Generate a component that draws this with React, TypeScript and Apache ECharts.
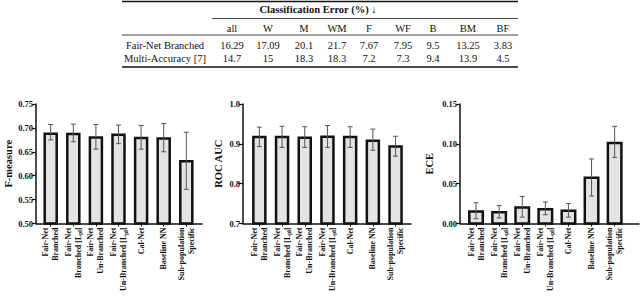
import React, { useEffect, useRef } from "react";
import * as echarts from "echarts";

// ---- data ----
const categories = [
  "Fair-Net\nBranched",
  "Fair-Net\nBranched [L{sub|pl}]",
  "Fair-Net\nUn-Branched",
  "Fair-Net\nUn-Branched [L{sub|pl}]",
  "Cal-Net",
  "Baseline NN",
  "Sub-population\nSpecific",
];

const fMeasure = [0.688, 0.6875, 0.68, 0.6855, 0.679, 0.678, 0.63];
const fMeasureLo = [0.675, 0.671, 0.6555, 0.667, 0.6555, 0.65, 0.5715];
const fMeasureHi = [0.707, 0.708, 0.707, 0.706, 0.705, 0.709, 0.691];

const rocAuc = [0.917, 0.917, 0.915, 0.9175, 0.917, 0.908, 0.893];
const rocAucLo = [0.893, 0.891, 0.891, 0.891, 0.891, 0.884, 0.869];
const rocAucHi = [0.942, 0.944, 0.943, 0.946, 0.943, 0.937, 0.919];

const ece = [0.015, 0.014, 0.02, 0.018, 0.016, 0.0575, 0.101];
const eceLo = [0.006, 0.007, 0.008, 0.011, 0.008, 0.0346, 0.083];
const eceHi = [0.026, 0.0225, 0.034, 0.027, 0.025, 0.081, 0.122];

const tableTitle = "Classification Error (%) \u2193";
const tableCols = ["all", "W", "M", "WM", "F", "WF", "B", "BM", "BF"];
const rowNames = ["Fair-Net Branched", "Multi-Accuracy [7]"];
const fairNetErr = ["16.29", "17.09", "20.1", "21.7", "7.67", "7.95", "9.5", "13.25", "3.83"];
const multiAccErr = ["14.7", "15", "18.3", "18.3", "7.2", "7.3", "9.4", "13.9", "4.5"];

const FONT = "Liberation Serif";

type Panel = {
  name: string;
  vals: number[];
  lo: number[];
  hi: number[];
  min: number;
  max: number;
  interval: number;
  dec: number;
  axisX: number;
  bandLeft: number;
  bandW: number;
  axisEnd: number;
  barW: number;
  nameGap: number;
};

const panels: Panel[] = [
  { name: "F-measure", vals: fMeasure, lo: fMeasureLo, hi: fMeasureHi, min: 0.5, max: 0.75, interval: 0.05, dec: 2,
    axisX: 36, bandLeft: 39.4, bandW: 22.6, axisEnd: 202, barW: 12, nameGap: 21 },
  { name: "ROC AUC", vals: rocAuc, lo: rocAucLo, hi: rocAucHi, min: 0.7, max: 1.0, interval: 0.1, dec: 1,
    axisX: 243, bandLeft: 248, bandW: 22.7, axisEnd: 411, barW: 12, nameGap: 19 },
  { name: "ECE", vals: ece, lo: eceLo, hi: eceHi, min: 0, max: 0.15, interval: 0.05, dec: 2,
    axisX: 460, bandLeft: 464.5, bandW: 23.1, axisEnd: 639, barW: 13.5, nameGap: 25 },
];

const TOP = 104;
const H = 119.5;

function buildOption() {
  const grid: any[] = [];
  const xAxis: any[] = [];
  const yAxis: any[] = [];
  const series: any[] = [];

  panels.forEach((p) => {
    const gA = grid.length;
    grid.push({ left: p.bandLeft, top: TOP, width: p.bandW * 7, height: H, containLabel: false });
    const gB = grid.length;
    grid.push({ left: p.axisX, top: TOP, width: p.axisEnd - p.axisX, height: H, containLabel: false });

    const xA = xAxis.length;
    xAxis.push({
      type: "category",
      gridIndex: gA,
      data: categories,
      boundaryGap: true,
      axisLine: { show: false },
      axisTick: { show: true, alignWithLabel: true, length: 3, lineStyle: { color: "#111", width: 1 } },
      axisLabel: {
        rotate: 90,
        interval: 0,
        margin: 4,
        fontFamily: FONT,
        fontWeight: "bold",
        fontSize: 8,
        lineHeight: 10,
        color: "#111",
        rich: { sub: { fontSize: 5.5, fontWeight: "bold", fontFamily: FONT, color: "#111", verticalAlign: "bottom", padding: [3, 0, 0, 0] } },
      },
      splitLine: { show: false },
    });
    xAxis.push({
      type: "value",
      gridIndex: gB,
      min: 0,
      max: 1,
      axisLine: { show: true, onZero: false, lineStyle: { color: "#111", width: 1.5 } },
      axisTick: { show: false },
      axisLabel: { show: false },
      splitLine: { show: false },
    });

    const yA = yAxis.length;
    yAxis.push({ type: "value", gridIndex: gA, min: p.min, max: p.max, interval: p.interval, show: false, splitLine: { show: false } });
    yAxis.push({
      type: "value",
      gridIndex: gB,
      min: p.min,
      max: p.max,
      interval: p.interval,
      name: p.name,
      nameLocation: "middle",
      nameGap: p.nameGap,
      nameTextStyle: { fontFamily: FONT, fontWeight: "bold", fontSize: 10.5, color: "#111" },
      axisLine: { show: true, onZero: false, lineStyle: { color: "#111", width: 1.5 } },
      axisTick: { show: true, length: 4, lineStyle: { color: "#111", width: 1.2 } },
      axisLabel: {
        fontFamily: FONT,
        fontWeight: "bold",
        fontSize: 8.5,
        color: "#111",
        margin: 3,
        formatter: (v: number) => v.toFixed(p.dec),
      },
      splitLine: { show: false },
    });

    series.push({
      type: "custom",
      xAxisIndex: xA,
      yAxisIndex: yA,
      data: p.vals.map((v, i) => [i, v]),
      encode: { x: 0, y: 1 },
      renderItem: (params: any, api: any) => {
        const i = api.value(0);
        const top = api.coord([i, api.value(1)]);
        const base = api.coord([i, p.min]);
        return {
          type: "rect",
          shape: { x: top[0] - p.barW / 2, y: top[1], width: p.barW, height: base[1] - top[1] },
          style: { fill: "#e3e3e3", stroke: "#111", lineWidth: 2.5 },
        };
      },
      z: 2,
    });
    series.push({
      type: "custom",
      xAxisIndex: xA,
      yAxisIndex: yA,
      data: p.vals.map((_, i) => [i, p.lo[i], p.hi[i]]),
      encode: { x: 0, y: [1, 2] },
      renderItem: (params: any, api: any) => {
        const i = api.value(0);
        const lo = api.coord([i, api.value(1)]);
        const hi = api.coord([i, api.value(2)]);
        const cw = 2.5;
        const st = { stroke: "#555", lineWidth: 1 };
        return {
          type: "group",
          children: [
            { type: "line", shape: { x1: lo[0], y1: lo[1], x2: hi[0], y2: hi[1] }, style: st },
            { type: "line", shape: { x1: lo[0] - cw, y1: lo[1], x2: lo[0] + cw, y2: lo[1] }, style: st },
            { type: "line", shape: { x1: hi[0] - cw, y1: hi[1], x2: hi[0] + cw, y2: hi[1] }, style: st },
          ],
        };
      },
      z: 3,
    });
  });

  // ---- table: rules as graphic, texts as title components ----
  const colX = [232, 268, 304, 337, 369, 403, 433, 468, 503];
  const tL = 122;
  const tR = 518;
  const FS = 10.5;
  const title: any[] = [];
  const txt = (text: string, x: number, y: number, bold = false) => {
    title.push({
      text,
      left: x,
      top: y - FS * 0.62,
      textAlign: "center",
      padding: 0,
      itemGap: 0,
      textStyle: {
        fontFamily: FONT,
        fontSize: FS,
        fontWeight: bold ? "bold" : "normal",
        color: "#111",
        lineHeight: FS * 1.2,
      },
    });
  };
  const hline = (x1: number, x2: number, y: number, w: number) => ({
    type: "line",
    shape: { x1, y1: y, x2, y2: y },
    style: { stroke: "#111", lineWidth: w },
  });
  const graphic: any[] = [
    hline(tL, tR, 1.5, 1.5),
    hline(212, tR, 18.5, 0.8),
    hline(tL, tR, 35, 0.8),
    hline(tL, tR, 67, 1.5),
  ];
  txt(tableTitle, 318, 10, true);
  txt(rowNames[0], 165, 46);
  txt(rowNames[1], 165, 59);
  tableCols.forEach((c, j) => {
    txt(c, colX[j], 28.5);
    txt(fairNetErr[j], colX[j], 46);
    txt(multiAccErr[j], colX[j], 59);
  });

  return {
    animation: false,
    backgroundColor: "#ffffff",
    textStyle: { fontFamily: FONT },
    title,
    grid,
    xAxis,
    yAxis,
    series,
    graphic,
  };
}

export default function App() {
  const ref = useRef<HTMLDivElement>(null);
  useEffect(() => {
    document.body.style.margin = "0";
    if (!ref.current) return;
    const chart = echarts.init(ref.current, undefined, { renderer: "svg" });
    chart.setOption(buildOption() as any);
    return () => chart.dispose();
  }, []);
  return <div ref={ref} style={{ width: 640, height: 298 }} />;
}
